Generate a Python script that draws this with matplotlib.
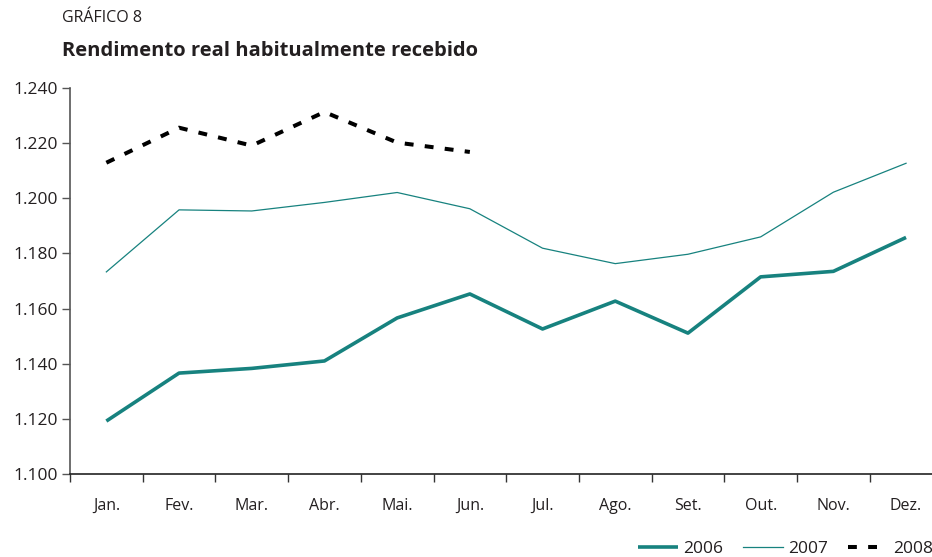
import matplotlib
matplotlib.use("Agg")
import matplotlib.pyplot as plt
from matplotlib.ticker import FuncFormatter

months = ["Jan.", "Fev.", "Mar.", "Abr.", "Mai.", "Jun.", "Jul.", "Ago.", "Set.", "Out.", "Nov.", "Dez."]
s2006 = [1.1192, 1.1366, 1.1383, 1.1410, 1.1566, 1.1653, 1.1526, 1.1627, 1.1511, 1.1715, 1.1735, 1.1858]
s2007 = [1.1733, 1.1958, 1.1954, 1.1985, 1.2021, 1.1962, 1.1819, 1.1763, 1.1797, 1.1860, 1.2022, 1.2127]
s2008 = [1.2129, 1.2256, 1.2191, 1.2313, 1.2202, 1.2168]
yticks = [1.100, 1.120, 1.140, 1.160, 1.180, 1.200, 1.220, 1.240]

plt.rcParams['font.family'] = ['Open Sans', 'DejaVu Sans']
teal = '#17827f'
txt = '#231f20'

fig = plt.figure(figsize=(9.32, 5.57), dpi=100)
W, H = 932, 557
ax = fig.add_axes([70 / W, 1 - 474 / H, (932 - 70) / W, (474 - 88) / H])

x = list(range(len(months)))
ax.plot(x, s2006, color=teal, lw=2.6, label="2006", solid_capstyle='butt')
ax.plot(x, s2007, color=teal, lw=0.9, label="2007")
ax.plot(range(len(s2008)), s2008, color='black', lw=2.9, dashes=(2.2, 2.8), label="2008")

ax.set_ylim(1.100, 1.240)
ax.set_yticks(yticks)
ax.yaxis.set_major_formatter(FuncFormatter(lambda v, p: f"{v:.3f}"))
ax.set_xlim(-0.5, -0.5 + 862 / 72.7)
ax.set_xticks([i - 0.5 for i in range(12)])
ax.set_xticklabels([])
ax.set_xticks(x, minor=True)
ax.set_xticklabels(months, minor=True)
ax.tick_params(axis='x', which='minor', length=0, pad=17, labelsize=11.5, labelcolor=txt)
ax.tick_params(axis='x', which='major', length=6, direction='out', width=1, color='#333333')
ax.tick_params(axis='y', which='major', length=6, direction='out', width=1, labelsize=12.5,
               labelcolor=txt, pad=3, color='#555555')

for s in ['top', 'right']:
    ax.spines[s].set_visible(False)
ax.spines['left'].set_color('#555555')
ax.spines['left'].set_linewidth(1.2)
ax.spines['bottom'].set_color('#222222')
ax.spines['bottom'].set_linewidth(1.2)

fig.text(62 / W, 1 - 18 / H, "GRÁFICO 8", fontsize=11.5, color=txt, va='center', ha='left')
fig.text(62 / W, 1 - 51 / H, "Rendimento real habitualmente recebido", fontsize=14.5,
         fontweight='bold', color=txt, va='center', ha='left')

leg = fig.legend(loc='lower right', bbox_to_anchor=(1.018, -0.028), ncol=3, frameon=False,
                 fontsize=12.5, handlelength=2.3, handletextpad=0.3, columnspacing=1.15)
for t in leg.get_texts():
    t.set_color(txt)

fig.savefig("out.png", dpi=100)
